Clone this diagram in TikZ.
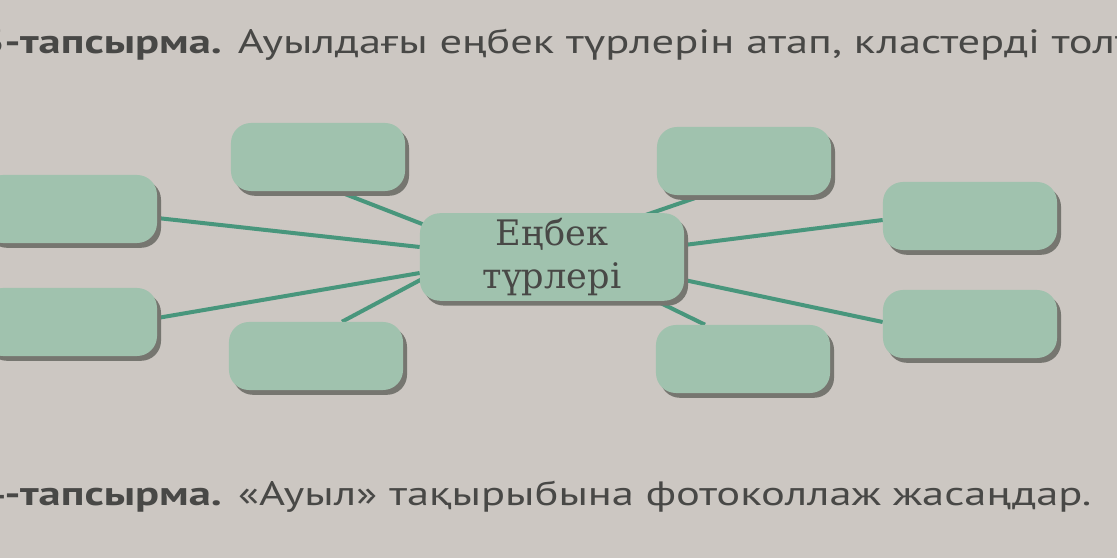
\documentclass[tikz,border=0pt]{standalone}
\usepackage{fontspec}
\setmainfont{PT Sans}[FakeStretch=1.32]
\newfontfamily\hubfont{DejaVu Serif}
\usetikzlibrary{shadows, calc, backgrounds}

\definecolor{paper}{RGB}{204,199,194}
\definecolor{boxgreen}{RGB}{160,194,174}
\definecolor{linkgreen}{RGB}{72,150,124}
\definecolor{shadowgrey}{RGB}{118,118,112}
\definecolor{inkgrey}{RGB}{72,72,70}

\begin{document}
\begin{tikzpicture}[x=0.025cm, y=-0.025cm,
    cell/.style={rounded corners=0.5cm, fill=boxgreen, minimum width=4.35cm, minimum height=1.7cm,
      drop shadow={shadow xshift=0.1cm, shadow yshift=-0.12cm, fill=shadowgrey, opacity=1}},
    hub/.style={cell, minimum width=6.6cm, minimum height=1.95cm, align=center, text=inkgrey,
      font=\hubfont\fontsize{25}{31}\selectfont},
    link/.style={linkgreen, line width=0.1cm},
    task/.style={anchor=base west, inner sep=0pt, text=inkgrey, font=\fontsize{24}{28}\selectfont}]

    % --- Page area ---
    \useasboundingbox (0,0) rectangle (1117,558);
    \clip (0,0) rectangle (1117,558);

    % --- Task lines ---
    \node[task] (task3) at (-21,54) {\textbf{3-тапсырма.} Ауылдағы еңбек түрлерін атап, кластерді толт};
    \node[task] (task4) at (-21,505) {\textbf{4-тапсырма.} «Ауыл» тақырыбына фотоколлаж жасаңдар.};

    % --- Cluster: centre ---
    \node[hub] (hub) at (552,257) {Еңбек\\түрлері};

    % --- Cluster: left side ---
    \node[cell] (lefttop) at (70,209) {};
    \node[cell] (leftbot) at (70,322) {};
    \node[cell] (uppleft) at (318,157) {};
    \node[cell] (lowleft) at (316,356) {};

    % --- Cluster: right side ---
    \node[cell] (uppright) at (744,161) {};
    \node[cell] (lowright) at (743,359) {};
    \node[cell] (righttop) at (970,216) {};
    \node[cell] (rightbot) at (970,324) {};

    % --- Spokes (behind the boxes) ---
    \begin{scope}[on background layer]
        \fill[paper] (0,0) rectangle (1117,558);
        \draw[link] ($(lefttop.east)+(0,9)$) -- ($(hub.west)+(0,-10)$);
        \draw[link] ($(leftbot.east)+(0,-4)$) -- ($(hub.west)+(0,16)$);
        \draw[link] ($(uppleft.south)+(20,0)$) -- ($(hub.north west)+(10,14)$);
        \draw[link] ($(lowleft.north)+(26,0)$) -- ($(hub.west)+(10,18)$);
        \draw[link] ($(uppright.south)+(-41,0)$) -- ($(hub.north east)+(-50,6)$);
        \draw[link] ($(lowright.north)+(-38,0)$) -- ($(hub.south east)+(-40,-6)$);
        \draw[link] ($(hub.east)+(0,-12)$) -- ($(righttop.west)+(0,4)$);
        \draw[link] ($(hub.east)+(0,23)$) -- ($(rightbot.west)+(0,-2)$);
    \end{scope}

\end{tikzpicture}
\end{document}
